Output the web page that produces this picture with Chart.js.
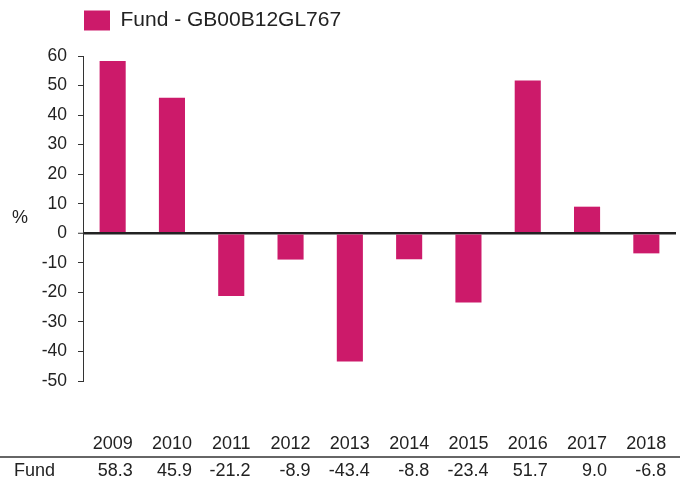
<!DOCTYPE html>
<html>
<head>
<meta charset="utf-8">
<script src="https://cdn.jsdelivr.net/npm/chart.js@4/dist/chart.umd.min.js"></script>
<style>
  html, body { margin: 0; padding: 0; background: #fff; }
  #wrap { width: 682px; height: 481px; }
</style>
</head>
<body>
<div id="wrap"><canvas id="barChart" width="682" height="481"></canvas></div>
<script>
const years = ['2009', '2010', '2011', '2012', '2013', '2014', '2015', '2016', '2017', '2018'];
const fundValues = [58.3, 45.9, -21.2, -8.9, -43.4, -8.8, -23.4, 51.7, 9.0, -6.8];
const seriesName = 'Fund - GB00B12GL767';
const rowLabel = 'Fund';

const pink = '#CC1A6A';
const font = 'Liberation Sans, Arial, sans-serif';

// legend sits over the plot, not at the canvas edge; leave a gap below it
const legendPos = {
    id: 'legendPos',
    beforeInit(chart) {
        const fit = chart.legend.fit;
        chart.legend.fit = function () {
            fit.bind(chart.legend)();
            this.height += 15;
        };
    },
    afterLayout(chart) {
        chart.legend.left += 74;
    }
};

// "%" label and the data table under the axis
const tableRow = {
    id: 'tableRow',
    afterDraw(chart) {
        const c = chart.ctx;
        const x = chart.scales.x;
        c.save();
        c.fillStyle = '#222';
        c.font = '18px ' + font;
        c.textBaseline = 'middle';
        c.textAlign = 'left';
        c.fillText('%', 12, 218);

        c.strokeStyle = '#333';
        c.lineWidth = 1.5;
        c.beginPath();
        c.moveTo(0, 457);
        c.lineTo(680, 457);
        c.stroke();

        c.font = '18px ' + font;
        c.fillText(rowLabel, 14, 471);
        c.textAlign = 'right';
        fundValues.forEach((v, i) => {
            const cx = x.getPixelForValue(i);
            const w = c.measureText(years[i]).width;
            c.fillText(v.toFixed(1), cx + w / 2, 471);
        });
        c.restore();
    }
};

const ctxBar = document.getElementById('barChart').getContext('2d');
const barChart = new Chart(ctxBar, {
    type: 'bar',
    data: {
        labels: years,
        datasets: [{
            label: seriesName,
            data: fundValues,
            backgroundColor: pink,
            borderWidth: 0,
            barPercentage: 0.44,
            categoryPercentage: 1
        }]
    },
    options: {
        responsive: false,
        animation: false,
        layout: {
            padding: { left: 0, right: 6, top: 0, bottom: 0 }
        },
        plugins: {
            legend: {
                display: true,
                align: 'start',
                labels: {
                    boxWidth: 26,
                    boxHeight: 20,
                    padding: 10,
                    color: '#222',
                    font: { family: font, size: 21 }
                }
            },
            tooltip: { enabled: false }
        },
        scales: {
            x: {
                grid: {
                    display: true,
                    drawOnChartArea: false,
                    tickLength: 52,
                    tickColor: 'rgba(0,0,0,0)'
                },
                border: { display: false },
                ticks: {
                    color: '#222',
                    padding: 0,
                    maxRotation: 0,
                    font: { family: font, size: 18 }
                },
                afterFit(s) { s.height = 100; }
            },
            y: {
                min: -50,
                max: 60,
                z: 1,
                border: { display: true, color: '#333', width: 1 },
                grid: {
                    color: (c) => c.tick && c.tick.value === 0 ? '#222' : 'rgba(0,0,0,0)',
                    lineWidth: (c) => c.tick && c.tick.value === 0 ? 2.5 : 1,
                    tickColor: '#333',
                    tickWidth: 1,
                    tickLength: 5
                },
                ticks: {
                    stepSize: 10,
                    color: '#222',
                    padding: 11,
                    font: { family: font, size: 17.5 }
                },
                afterFit(s) { s.width = 83; }
            }
        }
    },
    plugins: [legendPos, tableRow]
});
</script>
</body>
</html>
